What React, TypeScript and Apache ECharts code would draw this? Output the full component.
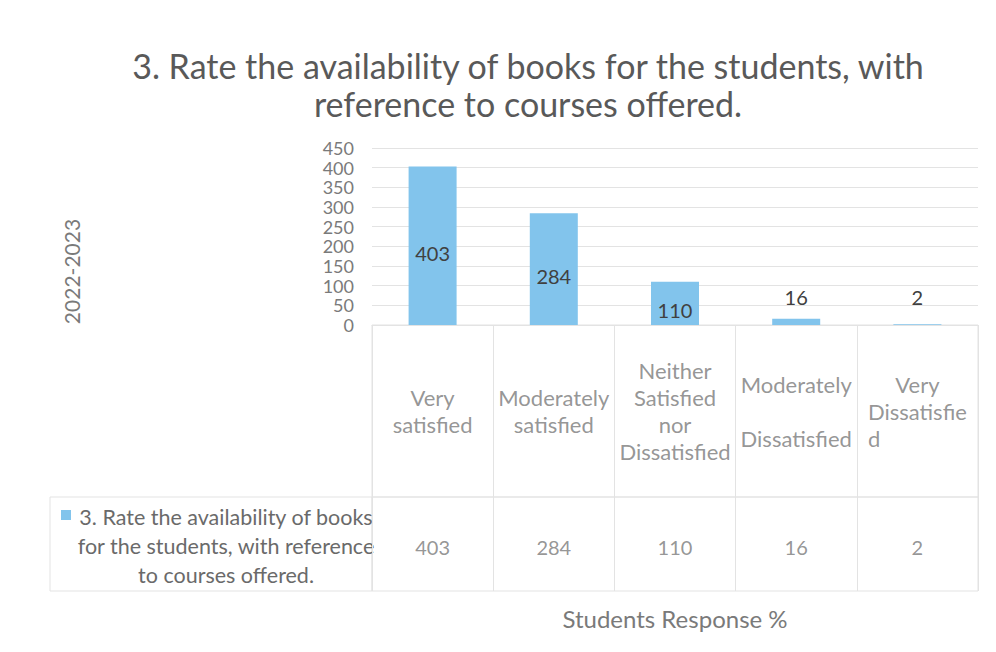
import React, { useEffect, useRef } from "react";
import * as echarts from "echarts";

const titleLines = [
  "3. Rate the availability of books for the students, with",
  "reference to courses offered.",
];
const seriesName =
  "3. Rate the availability of books for the students, with reference to courses offered.";
const legendLines = [
  "3. Rate the availability of books",
  "for the students, with reference",
  "to courses offered.",
];
const categories = [
  "Very satisfied",
  "Moderately satisfied",
  "Neither Satisfied nor Dissatisfied",
  "Moderately Dissatisfied",
  "Very Dissatisfied",
];
const categoryLabels = [
  "Very\nsatisfied",
  "Moderately\nsatisfied",
  "Neither\nSatisfied\nnor\nDissatisfied",
  "Moderately\n\nDissatisfied",
  "Very\nDissatisfie\n{l|d}",
];
const values = [403, 284, 110, 16, 2];
const yTicks = { min: 0, max: 450, interval: 50 };
const yAxisTitle = "2022-2023";
const xAxisTitle = "Students Response %";

const FONT = "Lato";
const GRAY = "#7a7a7a";
const LINE = "#e3e3e3";
const BAR = "#82c4ec";

export default function App() {
  const ref = useRef<HTMLDivElement>(null);
  useEffect(() => {
    if (!ref.current) return;
    const chart = echarts.init(ref.current, undefined, { renderer: "svg" });
    const smallLabelDistance = [0, 0, 0, 12, 17];
    chart.setOption({
      animation: false,
      backgroundColor: "#ffffff",
      textStyle: { fontFamily: FONT },
      title: {
        text: titleLines.join("\n"),
        left: 528,
        top: 46,
        padding: 0,
        textAlign: "center",
        textStyle: {
          fontFamily: FONT,
          fontSize: 34,
          fontWeight: "normal",
          color: "#595959",
          lineHeight: 38,
        },
      },
      grid: [
        { left: 372, top: 148, width: 606, height: 177 },
        { left: 372, top: 325, width: 606, height: 172, show: true, borderColor: LINE, borderWidth: 1 },
        { left: 372, top: 497, width: 606, height: 94, show: true, borderColor: LINE, borderWidth: 1 },
        { left: 50, top: 497, width: 322, height: 94, show: true, borderColor: LINE, borderWidth: 1 },
      ],
      xAxis: [
        {
          type: "category",
          gridIndex: 0,
          data: categories,
          axisLine: { show: true, lineStyle: { color: LINE } },
          axisTick: { show: false },
          axisLabel: { show: false },
        },
        {
          type: "category",
          gridIndex: 1,
          data: categories,
          axisLine: { show: false },
          axisTick: { show: false },
          axisLabel: { show: false },
          splitLine: { show: true, interval: 0, lineStyle: { color: LINE } },
        },
        {
          type: "category",
          gridIndex: 2,
          data: categories,
          axisLine: { show: false },
          axisTick: { show: false },
          axisLabel: { show: false },
          splitLine: { show: true, interval: 0, lineStyle: { color: LINE } },
          name: xAxisTitle,
          nameLocation: "middle",
          nameGap: 15,
          nameTextStyle: { fontFamily: FONT, fontSize: 24, color: GRAY },
        },
        { type: "value", gridIndex: 3, show: false },
      ],
      yAxis: [
        {
          type: "value",
          gridIndex: 0,
          min: yTicks.min,
          max: yTicks.max,
          interval: yTicks.interval,
          axisLine: { show: false },
          axisTick: { show: false },
          axisLabel: {
            fontFamily: FONT,
            fontSize: 18,
            lineHeight: 18,
            color: GRAY,
            margin: 18,
            showMinLabel: true,
            showMaxLabel: true,
          },
          splitLine: { show: true, lineStyle: { color: LINE } },
          name: yAxisTitle,
          nameLocation: "middle",
          nameRotate: 90,
          nameGap: 290,
          nameTextStyle: {
            fontFamily: FONT,
            fontSize: 21,
            color: GRAY,
            padding: [0, 70, 0, 0],
          },
        },
        { type: "value", gridIndex: 1, min: 0, max: 1, show: false },
        { type: "value", gridIndex: 2, min: 0, max: 1, show: false },
        { type: "value", gridIndex: 3, show: false },
      ],
      series: [
        {
          name: seriesName,
          type: "bar",
          xAxisIndex: 0,
          yAxisIndex: 0,
          barWidth: 48,
          itemStyle: { color: BAR },
          data: values.map((v, i) =>
            smallLabelDistance[i] > 0
              ? { value: v, label: { position: "top", distance: smallLabelDistance[i], offset: [0, 0] } }
              : v
          ),
          label: {
            show: true,
            position: "inside",
            offset: [0, 7],
            fontFamily: FONT,
            fontSize: 20,
            color: "#404040",
          },
        },
        {
          type: "scatter",
          xAxisIndex: 1,
          yAxisIndex: 1,
          symbolSize: 0,
          silent: true,
          data: categories.map(() => 0.5),
          label: {
            show: true,
            position: "inside",
            fontFamily: FONT,
            fontSize: 22,
            lineHeight: 27,
            color: GRAY,
            align: "center",
            formatter: (p: any) => categoryLabels[p.dataIndex],
            rich: {
              l: { align: "left", fontFamily: FONT, fontSize: 22, lineHeight: 27, color: GRAY },
            },
          },
        },
        {
          type: "scatter",
          xAxisIndex: 2,
          yAxisIndex: 2,
          symbolSize: 0,
          silent: true,
          data: values.map(() => 0.5),
          label: {
            show: true,
            position: "inside",
            offset: [0, 3],
            fontFamily: FONT,
            fontSize: 20,
            color: GRAY,
            formatter: (p: any) => String(values[p.dataIndex]),
          },
        },
      ],
      graphic: [
        {
          type: "rect",
          left: 61,
          top: 510,
          shape: { width: 10, height: 10 },
          style: { fill: BAR },
        },
        {
          type: "text",
          x: 226,
          y: 546,
          style: {
            text: legendLines.join("\n"),
            fontFamily: FONT,
            fontSize: 21.5,
            lineHeight: 29,
            fill: "#6a6a6a",
            align: "center",
            verticalAlign: "middle",
          },
        },
      ],
    });
    return () => chart.dispose();
  }, []);
  return (
    <div
      ref={ref}
      style={{ position: "absolute", left: 0, top: 0, width: 996, height: 652 }}
    />
  );
}
